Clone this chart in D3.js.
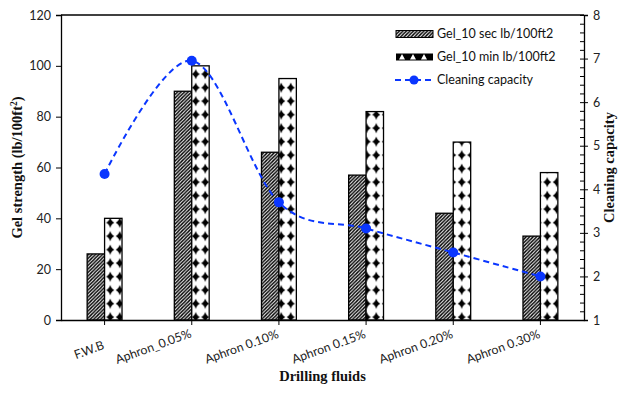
<!DOCTYPE html>
<html><head><meta charset="utf-8">
<script src="https://cdn.jsdelivr.net/npm/d3@7/dist/d3.min.js"></script>
<style>
html,body{margin:0;padding:0;background:#fff;}
svg{display:block;}
</style></head>
<body>
<svg id="chart" width="622" height="412"></svg>
<script>
const categories = ["F.W.B","Aphron_0.05%","Aphron 0.10%","Aphron 0.15%","Aphron 0.20%","Aphron 0.30%"];
const gel10sec = [26, 90, 66, 57, 42, 33];
const gel10min = [40, 100, 95, 82, 70, 58];
const cleaning = [4.35, 6.95, 3.7, 3.1, 2.55, 2.0];
const leftTicks = [0, 20, 40, 60, 80, 100, 120];
const rightTicks = [1, 2, 3, 4, 5, 6, 7, 8];
const seriesNames = ["Gel_10 sec lb/100ft2", "Gel_10 min lb/100ft2", "Cleaning capacity"];

const svg = d3.select("#chart");
const L = 61, R = 584, T = 15, B = 320;
const blue = "#0a36ff";
const sans = "Lato, 'Open Sans', sans-serif";
const serif = "'Liberation Serif', 'DejaVu Serif', serif";

const x = d3.scaleBand().domain(categories).range([L, R]).padding(0);
const yL = d3.scaleLinear().domain([0, 120]).range([B, T]);
const yR = d3.scaleLinear().domain([1, 8]).range([B, T]);
const bw = x.bandwidth() * 0.2;

// patterns
const defs = svg.append("defs");
const hatch = defs.append("pattern").attr("id", "hatch").attr("patternUnits", "userSpaceOnUse")
  .attr("width", 3.5).attr("height", 3.5);
hatch.append("rect").attr("width", 3.5).attr("height", 3.5).attr("fill", "#fff");
hatch.append("path").attr("d", "M-1,4.5 L4.5,-1 M-1,1 L1,-1 M2.5,4.5 L4.5,2.5")
  .attr("stroke", "#000").attr("stroke-width", 1.4);

const dia = defs.append("pattern").attr("id", "diamond").attr("patternUnits", "userSpaceOnUse")
  .attr("width", 9.5).attr("height", 13.5).attr("x", 1);
dia.append("rect").attr("width", 9.5).attr("height", 13.5).attr("fill", "#fff");
function star(cx, cy, rx, ry) {
  return `M${cx},${cy-ry} Q${cx+rx*0.25},${cy-ry*0.25} ${cx+rx},${cy} Q${cx+rx*0.25},${cy+ry*0.25} ${cx},${cy+ry} Q${cx-rx*0.25},${cy+ry*0.25} ${cx-rx},${cy} Q${cx-rx*0.25},${cy-ry*0.25} ${cx},${cy-ry} Z`;
}
dia.append("path").attr("d", star(4.75, 6.75, 4.2, 5.2)).attr("fill", "#000");

// bars
const g = svg.append("g");
g.selectAll(".b1").data(categories).enter().append("rect")
  .attr("x", (d) => x(d) + x.bandwidth() / 2 - bw)
  .attr("y", (d, i) => yL(gel10sec[i]))
  .attr("width", bw)
  .attr("height", (d, i) => B - yL(gel10sec[i]))
  .attr("fill", "url(#hatch)").attr("stroke", "#000").attr("stroke-width", 1.3);
g.selectAll(".b2").data(categories).enter().append("rect")
  .attr("x", (d) => x(d) + x.bandwidth() / 2)
  .attr("y", (d, i) => yL(gel10min[i]))
  .attr("width", bw)
  .attr("height", (d, i) => B - yL(gel10min[i]))
  .attr("fill", "url(#diamond)").attr("stroke", "#000").attr("stroke-width", 1.3);

// frame
svg.append("line").attr("x1", L).attr("x2", R).attr("y1", T).attr("y2", T).attr("stroke", "#000").attr("stroke-width", 1.3);

// left axis
const minorL = d3.range(0, 121, 4);
const axL = svg.append("g").attr("transform", `translate(${L},0)`);
axL.call(d3.axisLeft(yL).tickValues(minorL).tickSize(4).tickFormat(""));
axL.call(d3.axisLeft(yL).tickValues(leftTicks).tickSize(5).tickPadding(5).tickFormat(d3.format("d")));
axL.selectAll("path").attr("stroke", "#000").attr("stroke-width", 1.3);
axL.selectAll("text").style("font-size", "12.5px").style("fill", "#222").style("font-family", sans);

// right axis
const minorR = d3.range(1, 8.01, 0.2);
const axR = svg.append("g").attr("transform", `translate(${R},0)`);
axR.call(d3.axisLeft(yR).tickValues(minorR).tickSize(4).tickFormat(""));
axR.select(".domain").remove();
const axR2 = svg.append("g").attr("transform", `translate(${R},0)`);
axR2.call(d3.axisRight(yR).tickValues(rightTicks).tickSize(4).tickPadding(5).tickFormat(d3.format("d")));
axR2.selectAll("path").attr("stroke", "#000").attr("stroke-width", 1.3);
axR2.selectAll("text").style("font-size", "12.5px").style("fill", "#222").style("font-family", sans);

// bottom axis
const axB = svg.append("g").attr("transform", `translate(0,${B})`);
axB.call(d3.axisBottom(x).tickSize(5).tickSizeOuter(0));
axB.select(".domain").attr("stroke", "#000").attr("stroke-width", 1.3);
const c20 = Math.cos(20 * Math.PI / 180);
axB.selectAll(".tick text").style("font-size", "12.3px").style("fill", "#222").style("font-family", sans)
  .attr("text-anchor", "middle").attr("y", 0).attr("dy", "0.35em")
  .attr("transform", function () {
    const w = this.getComputedTextLength();
    return `translate(${-w * c20 / 2 - 1},${32 - w * 0.07}) rotate(-20)`;
  });

// line
const pts = categories.map((c, i) => [x(c) + x.bandwidth() / 2, yR(cleaning[i])]);
svg.append("path").attr("d", d3.line().curve(d3.curveCardinal.tension(0))(pts))
  .attr("fill", "none").attr("stroke", blue).attr("stroke-width", 2).attr("stroke-dasharray", "6,4");
svg.selectAll(".pt").data(pts).enter().append("circle")
  .attr("cx", (d) => d[0]).attr("cy", (d) => d[1]).attr("r", 5).attr("fill", blue);

// axis titles
svg.append("text").attr("transform", `translate(22,${(T + B) / 2}) rotate(-90)`)
  .attr("text-anchor", "middle").style("font-family", serif).style("font-weight", "bold")
  .style("font-size", "14.5px").style("fill", "#111")
  .html('Gel strength (lb/100ft<tspan dy="-5" style="font-size:9.5px">2</tspan><tspan dy="5">)</tspan>');
svg.append("text").attr("transform", `translate(614,${(T + B) / 2}) rotate(-90)`)
  .attr("text-anchor", "middle").style("font-family", serif).style("font-weight", "bold")
  .style("font-size", "14.5px").style("fill", "#111").text("Cleaning capacity");
svg.append("text").attr("x", (L + R) / 2).attr("y", 381)
  .attr("text-anchor", "middle").style("font-family", serif).style("font-weight", "bold")
  .style("font-size", "14.5px").style("fill", "#111").text("Drilling fluids");

// legend
const lg = svg.append("g");
const ly = [34, 57, 80];
lg.append("rect").attr("x", 396).attr("y", ly[0] - 3.5).attr("width", 37).attr("height", 7)
  .attr("fill", "url(#hatch)").attr("stroke", "#000").attr("stroke-width", 1);
lg.append("rect").attr("x", 396).attr("y", ly[1] - 3.5).attr("width", 37).attr("height", 7)
  .attr("fill", "#000");
lg.append("path").attr("d", "M399,59.5 L402,54 L405,59.5 M410,59.5 L413,54 L416,59.5 M421,59.5 L424,54 L427,59.5")
  .attr("fill", "#fff").attr("stroke", "none");
lg.append("line").attr("x1", 395).attr("x2", 433).attr("y1", ly[2]).attr("y2", ly[2])
  .attr("stroke", blue).attr("stroke-width", 2).attr("stroke-dasharray", "6,4");
lg.append("circle").attr("cx", 414).attr("cy", ly[2]).attr("r", 4.5).attr("fill", blue);
lg.selectAll(".lt").data(seriesNames).enter().append("text")
  .attr("x", 437).attr("y", (d, i) => ly[i]).attr("dy", "0.35em")
  .style("font-family", sans).style("font-size", "12.5px").style("fill", "#111").text((d) => d);
</script>
</body></html>
